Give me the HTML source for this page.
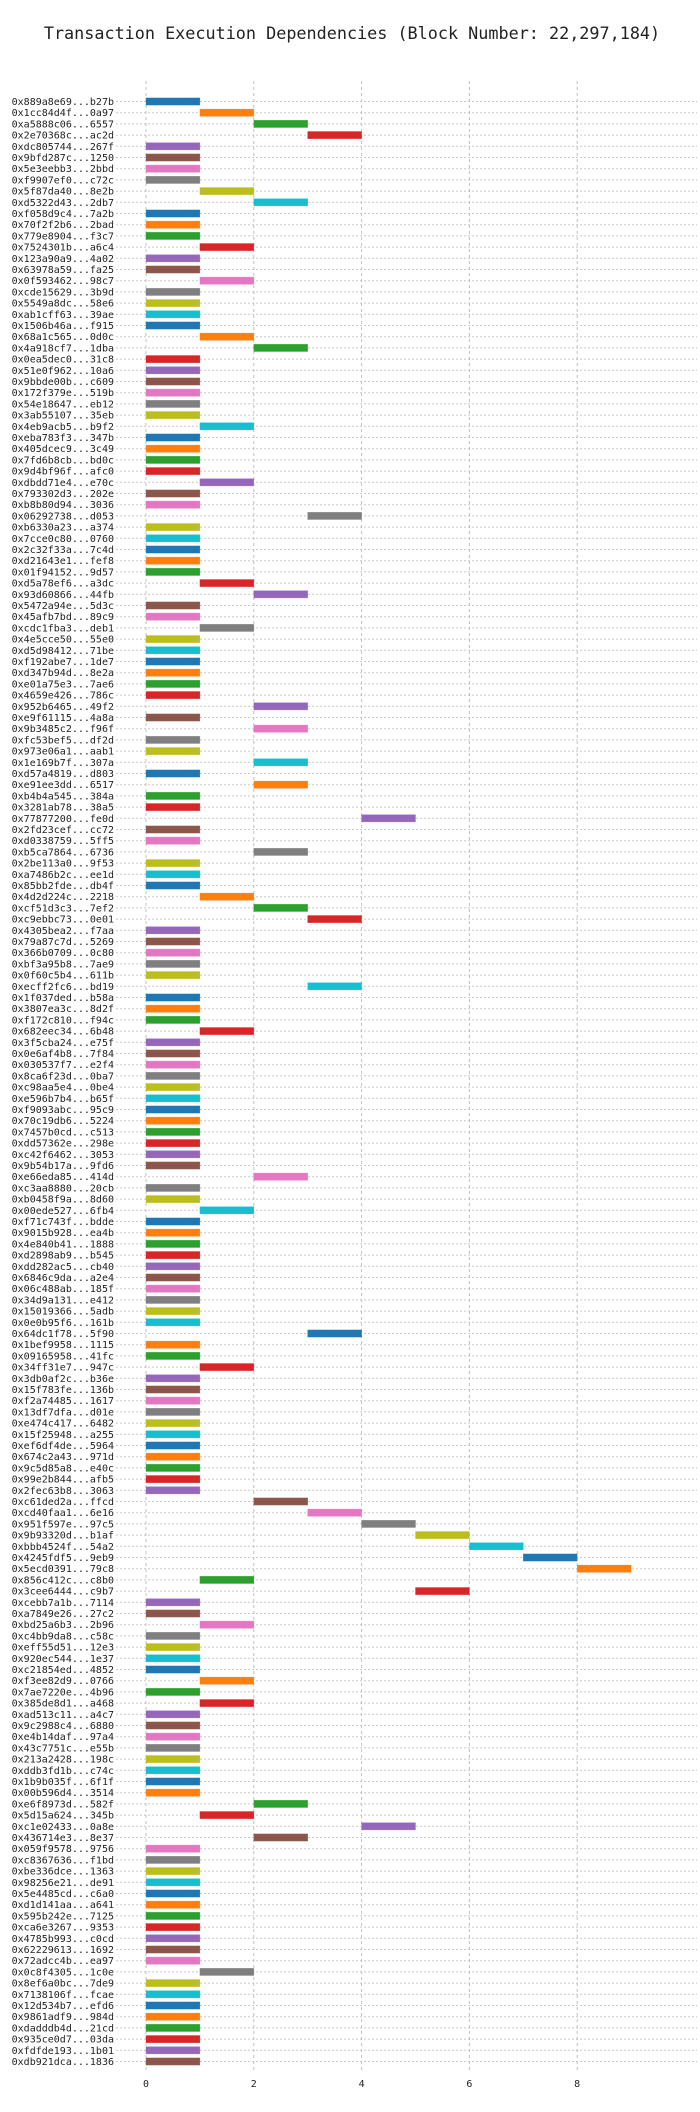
<!DOCTYPE html>
<html><head><meta charset="utf-8"><style>
html,body{margin:0;padding:0;background:#fff;}
svg{display:block;}
text{font-family:"DejaVu Sans Mono","Liberation Mono",monospace;fill:#222;}
</style></head><body>
<svg id="chart" width="700" height="2112" viewBox="0 0 700 2112" xmlns="http://www.w3.org/2000/svg">
<text x="352" y="39" text-anchor="middle" font-size="16.8">Transaction Execution Dependencies (Block Number: 22,297,184)</text>
<g id="grid"></g>
<g id="bars"></g>
<g id="ylabels"></g>
<g id="xlabels"></g>
</svg>
<script>
const txLabels = ["0x889a8e69...b27b","0x1cc84d4f...0a97","0xa5888c06...6557","0x2e70368c...ac2d","0xdc805744...267f","0x9bfd287c...1250","0x5e3eebb3...2bbd","0xf9907ef0...c72c","0x5f87da40...8e2b","0xd5322d43...2db7","0xf058d9c4...7a2b","0x70f2f2b6...2bad","0x779e8904...f3c7","0x7524301b...a6c4","0x123a90a9...4a02","0x63978a59...fa25",
"0x0f593462...98c7","0xcde15629...3b9d","0x5549a8dc...58e6","0xab1cff63...39ae","0x1506b46a...f915","0x68a1c565...0d0c","0x4a918cf7...1dba","0x0ea5dec0...31c8","0x51e0f962...10a6","0x9bbde00b...c609","0x172f379e...519b","0x54e18647...eb12","0x3ab55107...35eb","0x4eb9acb5...b9f2","0xeba783f3...347b","0x405dcec9...3c49",
"0x7fd6b8cb...bd0c","0x9d4bf96f...afc0","0xdbdd71e4...e70c","0x793302d3...202e","0xb8b80d94...3036","0x06292738...d053","0xb6330a23...a374","0x7cce0c80...0760","0x2c32f33a...7c4d","0xd21643e1...fef8","0x01f94152...9d57","0xd5a78ef6...a3dc","0x93d60866...44fb","0x5472a94e...5d3c","0x45afb7bd...89c9","0xcdc1fba3...deb1",
"0x4e5cce50...55e0","0xd5d98412...71be","0xf192abe7...1de7","0xd347b94d...8e2a","0xe01a75e3...7ae6","0x4659e426...786c","0x952b6465...49f2","0xe9f61115...4a8a","0x9b3485c2...f96f","0xfc53bef5...df2d","0x973e06a1...aab1","0x1e169b7f...307a","0xd57a4819...d803","0xe91ee3dd...6517","0xb4b4a545...384a","0x3281ab78...38a5",
"0x77877200...fe0d","0x2fd23cef...cc72","0xd0338759...5ff5","0xb5ca7864...6736","0x2be113a0...9f53","0xa7486b2c...ee1d","0x85bb2fde...db4f","0x4d2d224c...2218","0xcf51d3c3...7ef2","0xc9ebbc73...0e01","0x4305bea2...f7aa","0x79a87c7d...5269","0x366b0709...0c80","0xbf3a95b8...7ae9","0x0f60c5b4...611b","0xecff2fc6...bd19",
"0x1f037ded...b58a","0x3807ea3c...8d2f","0xf172c810...f94c","0x682eec34...6b48","0x3f5cba24...e75f","0x0e6af4b8...7f84","0x030537f7...e2f4","0x8ca6f23d...0ba7","0xc98aa5e4...0be4","0xe596b7b4...b65f","0xf9093abc...95c9","0x70c19db6...5224","0x7457b0cd...c513","0xdd57362e...298e","0xc42f6462...3053","0x9b54b17a...9fd6",
"0xe66eda85...414d","0xc3aa8880...20cb","0xb0458f9a...8d60","0x00ede527...6fb4","0xf71c743f...bdde","0x9015b928...ea4b","0x4e840b41...1888","0xd2898ab9...b545","0xdd282ac5...cb40","0x6846c9da...a2e4","0x06c488ab...185f","0x34d9a131...e412","0x15019366...5adb","0x0e0b95f6...161b","0x64dc1f78...5f90","0x1bef9958...1115",
"0x09165958...41fc","0x34ff31e7...947c","0x3db0af2c...b36e","0x15f783fe...136b","0xf2a74485...1617","0x13df7dfa...d01e","0xe474c417...6482","0x15f25948...a255","0xef6df4de...5964","0x674c2a43...971d","0x9c5d85a8...e40c","0x99e2b844...afb5","0x2fec63b8...3063","0xc61ded2a...ffcd","0xcd40faa1...6e16","0x951f597e...97c5",
"0x9b93320d...b1af","0xbbb4524f...54a2","0x4245fdf5...9eb9","0x5ecd0391...79c8","0x856c412c...c8b0","0x3cee6444...c9b7","0xcebb7a1b...7114","0xa7849e26...27c2","0xbd25a6b3...2b96","0xc4bb9da8...c58c","0xeff55d51...12e3","0x920ec544...1e37","0xc21854ed...4852","0xf3ee82d9...0766","0x7ae7220e...4b96","0x385de8d1...a468",
"0xad513c11...a4c7","0x9c2988c4...6880","0xe4b14daf...97a4","0x43c7751c...e55b","0x213a2428...198c","0xddb3fd1b...c74c","0x1b9b035f...6f1f","0x00b596d4...3514","0xe6f8973d...582f","0x5d15a624...345b","0xc1e02433...0a8e","0x436714e3...8e37","0x059f9578...9756","0xc8367636...f1bd","0xbe336dce...1363","0x98256e21...de91",
"0x5e4485cd...c6a0","0xd1d141aa...a641","0x595b242e...7125","0xca6e3267...9353","0x4785b993...c0cd","0x62229613...1692","0x72adcc4b...ea97","0x0c8f4305...1c0e","0x8ef6a0bc...7de9","0x7138106f...fcae","0x12d534b7...efd6","0x9861adf9...984d","0xdadddb4d...21cd","0x935ce0d7...03da","0xfdfde193...1b01","0xdb921dca...1836"];
const startSteps = [0,1,2,3,0,0,0,0,1,2,0,0,0,1,0,0,
1,0,0,0,0,1,2,0,0,0,0,0,0,1,0,0,
0,0,1,0,0,3,0,0,0,0,0,1,2,0,0,1,
0,0,0,0,0,0,2,0,2,0,0,2,0,2,0,0,
4,0,0,2,0,0,0,1,2,3,0,0,0,0,0,3,
0,0,0,1,0,0,0,0,0,0,0,0,0,0,0,0,
2,0,0,1,0,0,0,0,0,0,0,0,0,0,3,0,
0,1,0,0,0,0,0,0,0,0,0,0,0,2,3,4,
5,6,7,8,1,5,0,0,1,0,0,0,0,1,0,1,
0,0,0,0,0,0,0,0,2,1,4,2,0,0,0,0,
0,0,0,0,0,0,0,1,0,0,0,0,0,0,0,0];
const durations = startSteps.map(() => 1);
const xTicks = [0,2,4,6,8];

const palette = ["#1f77b4","#ff7f0e","#2ca02c","#d62728","#9467bd","#8c564b","#e377c2","#7f7f7f","#bcbd22","#17becf"];
const NS = "http://www.w3.org/2000/svg";
const X0 = 146, UNIT = 53.9;
const Y0 = 101.5, ROW = 11.2;
const PLOT_L = 116, PLOT_R = 697, PLOT_T = 81, PLOT_B = 2072;
const xScale = v => X0 + v * UNIT;
const yScale = i => Y0 + i * ROW;
function mk(tag, attrs, parent) {
  const e = document.createElementNS(NS, tag);
  for (const k in attrs) e.setAttribute(k, attrs[k]);
  parent.appendChild(e);
  return e;
}
const grid = document.getElementById('grid');
const bars = document.getElementById('bars');
const yl = document.getElementById('ylabels');
const xl = document.getElementById('xlabels');

txLabels.forEach((lab, i) => {
  const y = yScale(i);
  const gl = mk('line', {x1: PLOT_L, x2: PLOT_R, y1: y, y2: y, stroke: '#c8c8c8', 'stroke-width': 1, 'stroke-dasharray': '2,2'}, grid);
  
  
  const t = mk('text', {x: 114, y: y + 3.5, 'text-anchor': 'end', 'font-size': 10}, yl);
  t.textContent = lab;
  
  
});
xTicks.forEach(v => {
  const x = xScale(v);
  const vl = mk('line', {x1: x, x2: x, y1: PLOT_T, y2: PLOT_B, stroke: '#c0c0c0', 'stroke-width': 1, 'stroke-dasharray': '3,3'}, grid);
  
  
  const t = mk('text', {x: x, y: 2087, 'text-anchor': 'middle', 'font-size': 10}, xl);
  t.textContent = String(v);
  
  
});
startSteps.forEach((s, i) => {
  const x1 = xScale(s), x2 = xScale(s + durations[i]);
  const r = mk('rect', {x: x1, y: yScale(i) - 3.6, width: x2 - x1, height: 7.2, fill: palette[i % 10], stroke: palette[i % 10], 'stroke-opacity': 0.5, 'stroke-width': 0.6}, bars);
  
  
});
</script>
</body></html>
